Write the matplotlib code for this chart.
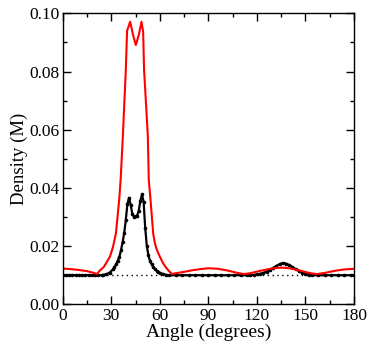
import matplotlib
matplotlib.use("Agg")
import matplotlib.pyplot as plt
from matplotlib.ticker import MultipleLocator

# red curve
red_angle = [0, 5, 10, 15, 18, 21.3, 22.6, 25.5, 29.2, 31, 32.9, 34.9, 35.8,
             37.2, 39.0, 39.8, 41.7, 43.5, 45.2, 47.0, 48.7, 49.7, 50.3, 52.6,
             53.2, 54.3, 55.9, 57, 58, 60, 62, 63.5, 65.5, 67.6, 70, 75.4, 80,
             85, 90, 96, 102, 108, 112, 116, 122, 128, 132, 136, 140, 145, 150,
             154, 157, 162, 168, 174, 180]
red_density = [0.0123, 0.0121, 0.0118, 0.0114, 0.0110, 0.0104, 0.0114, 0.0129,
               0.0164, 0.0195, 0.0244, 0.0358, 0.0427, 0.0580, 0.0805, 0.0940,
               0.0971, 0.0925, 0.0891, 0.0925, 0.0971, 0.0937, 0.0805, 0.0580,
               0.0427, 0.0358, 0.0244, 0.0210, 0.0190, 0.0164, 0.0142, 0.0129,
               0.0115, 0.0104, 0.0107, 0.0112, 0.0117, 0.0121, 0.0124, 0.0122,
               0.0116, 0.0108, 0.0104, 0.0107, 0.0115, 0.0122, 0.0125, 0.0126,
               0.0124, 0.0118, 0.0111, 0.0106, 0.0104, 0.0108, 0.0115, 0.0120,
               0.0122]

# black curve (with markers)
black_angle = [0, 2, 4, 6, 8, 10, 12, 14, 16, 18, 20, 22, 24, 25, 27, 29, 31,
               32, 33, 34, 35, 36, 37, 38, 39, 40, 41, 42, 43, 44, 45, 46, 47,
               48, 49, 50, 51, 52, 53, 54, 55, 56, 57, 58, 59, 60, 62, 64, 66,
               70, 74, 78, 82, 86, 90, 94, 98, 102, 106, 110, 114, 116, 118,
               120, 122, 124, 126, 128, 130, 132, 134, 136, 138, 140, 142, 144,
               146, 148, 150, 152, 154, 158, 162, 166, 170, 174, 178, 180]
black_density = [0.0100, 0.0100, 0.0100, 0.0100, 0.0100, 0.0100, 0.0100,
                 0.0100, 0.0100, 0.0100, 0.0100, 0.0100, 0.0100, 0.0101,
                 0.0103, 0.0109, 0.0120, 0.0128, 0.0138, 0.0150, 0.0163,
                 0.0185, 0.0213, 0.0244, 0.0290, 0.0345, 0.0366, 0.0342,
                 0.0312, 0.0301, 0.0302, 0.0305, 0.0322, 0.0355, 0.0378,
                 0.0352, 0.0262, 0.0200, 0.0168, 0.0148, 0.0137, 0.0128,
                 0.0121, 0.0115, 0.0111, 0.0108, 0.0104, 0.0101, 0.0100,
                 0.0100, 0.0100, 0.0100, 0.0100, 0.0100, 0.0100, 0.0100,
                 0.0100, 0.0100, 0.0100, 0.0100, 0.0100, 0.0100, 0.0101,
                 0.0103, 0.0105, 0.0108, 0.0112, 0.0118, 0.0125, 0.0132,
                 0.0138, 0.0142, 0.0140, 0.0135, 0.0128, 0.0121, 0.0115,
                 0.0109, 0.0105, 0.0102, 0.0100, 0.0100, 0.0100, 0.0100,
                 0.0100, 0.0100, 0.0100, 0.0100]

baseline = 0.01

plt.rcParams["font.family"] = ["Liberation Serif", "DejaVu Serif"]

fig = plt.figure(figsize=(3.74, 3.49), dpi=100)
ax = fig.add_axes([0.1676, 0.128, 0.7789, 0.8339])

ax.axhline(baseline, color="black", linestyle=(0, (1, 2.5)), linewidth=1.0)
ax.plot(black_angle, black_density, color="black", linewidth=1.6,
        marker="o", markersize=1.6)
ax.plot(red_angle, red_density, color="#ff0000", linewidth=1.5)

ax.set_xlim(0, 180)
ax.set_ylim(0, 0.1)
ax.xaxis.set_major_locator(MultipleLocator(30))
ax.xaxis.set_minor_locator(MultipleLocator(15))
ax.yaxis.set_major_locator(MultipleLocator(0.02))
ax.yaxis.set_minor_locator(MultipleLocator(0.01))
ax.yaxis.set_major_formatter(plt.FormatStrFormatter("%.2f"))

ax.tick_params(which="both", direction="in", top=True, right=True,
               labelsize=12.5, width=1.0)
ax.tick_params(which="major", length=6)
ax.tick_params(axis="x", which="major", pad=2.5)
ax.tick_params(axis="y", which="major", pad=2.5)
ax.tick_params(which="minor", length=3)
for s in ax.spines.values():
    s.set_linewidth(1.0)

ax.set_xlabel("Angle (degrees)", fontsize=14, labelpad=0)
ax.set_ylabel("Density (M)", fontsize=13.5, labelpad=1)

fig.savefig("out.png", dpi=100)
plt.close(fig)
